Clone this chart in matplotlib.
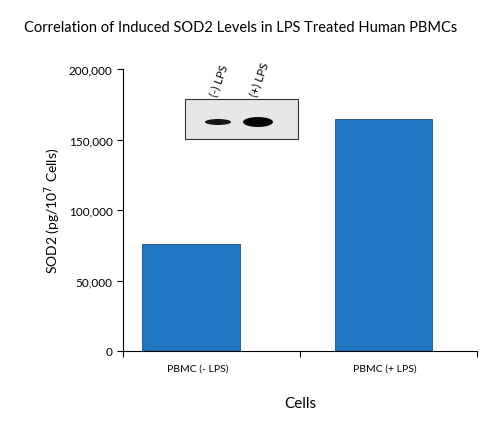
import matplotlib
matplotlib.use("Agg")
from matplotlib import pyplot as plt
from matplotlib.patches import Rectangle, Ellipse

categories = ["PBMC (- LPS)", "PBMC (+ LPS)"]
values = [76000, 164500]
blot_labels = ["(-) LPS", "(+) LPS"]

plt.rcParams["font.family"] = ["Lato", "DejaVu Sans"]

fig = plt.figure(figsize=(4.81, 4.27), dpi=100)
ax = fig.add_axes([123 / 481, 75 / 427, 354 / 481, 282 / 427])

pos = [0.385, 1.47]
ax.bar(pos, values, width=0.55, color="#2277c2", edgecolor="#1a4f80", linewidth=0.6)
ax.set_xlim(0, 2)
ax.set_ylim(0, 200000)
ax.set_yticks(range(0, 200001, 50000))
ax.set_yticklabels([f"{v:,}" for v in range(0, 200001, 50000)], fontsize=8.5)
ax.set_xticks([0, 1, 2])
ax.set_xticklabels([])
ax.tick_params(axis="x", length=4)
ax.tick_params(axis="y", length=4)
for p, c in zip([0.42, 1.48], categories):
    ax.text(p, -0.045, c, transform=ax.get_xaxis_transform(), ha="center", va="top", fontsize=7.5)
ax.spines["top"].set_visible(False)
ax.spines["right"].set_visible(False)
ax.set_ylabel("SOD2 (pg/10$^7$ Cells)", fontsize=10)
ax.text(0.5, -0.16, "Cells", transform=ax.transAxes, ha="center", va="top", fontsize=11)
fig.text(0.5, 1 - 28 / 427, "Correlation of Induced SOD2 Levels in LPS Treated Human PBMCs",
         ha="center", va="center", fontsize=10.5)

# inset blot
x0, x1 = (185 - 123) / 354, (298 - 123) / 354
y0, y1 = (352 - 140) / 282, (352 - 100) / 282
ax.add_patch(Rectangle((x0, y0), x1 - x0, y1 - y0, transform=ax.transAxes,
                       facecolor="#e6e6e6", edgecolor="#333333", linewidth=0.8, zorder=5))
ax.add_patch(Ellipse(((218 - 123) / 354, (352 - 123) / 282), 26 / 354, 6 / 282,
                     transform=ax.transAxes, facecolor="#151515", zorder=6))
ax.add_patch(Ellipse(((258 - 123) / 354, (352 - 123) / 282), 30 / 354, 10 / 282,
                     transform=ax.transAxes, facecolor="#050505", zorder=6))
for px, lab in zip([218, 258], blot_labels):
    ax.text((px - 123) / 354, (352 - 100) / 282 + 0.005, lab, transform=ax.transAxes,
            rotation=70, ha="left", va="bottom", fontsize=8.5, rotation_mode="anchor", zorder=6)

fig.savefig("out.png", dpi=100)
